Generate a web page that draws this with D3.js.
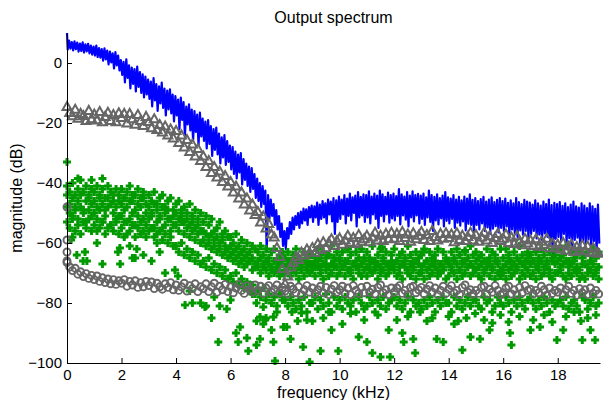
<!DOCTYPE html>
<html>
<head>
<meta charset="utf-8">
<script src="https://cdn.jsdelivr.net/npm/d3@7"></script>
<style>
body { margin: 0; background: #fff; }
svg { display: block; font-family: Helvetica, Arial, "Liberation Sans", sans-serif; }
</style>
</head>
<body>
<svg width="603" height="400"></svg>
<script>
// spectrum bins are 0.1 kHz apart, one row below = 1 kHz
var binWidth = 0.1;
var xTicks = [0, 2, 4, 6, 8, 10, 12, 14, 16, 18];
var yTicks = [-100, -80, -60, -40, -20, 0];

// blue trace: top and bottom of each bin (dB)
var blueHi = [
    10, 7.5, 7, 7.2, 6.8, 6.5, 6.9, 6.2, 6.4, 5.8,
    5.5, 5.8, 5.0, 4.6, 4.9, 4.1, 3.8, 3.2, 3.6, 2.5,
    1.0, 0.4, 1.2, -0.8, -1.5, -2.0, -1.2, -3.0, -3.8, -4.5,
    -5.5, -6.2, -5.0, -7.0, -7.8, -6.5, -8.5, -9.2, -8.8, -10.5,
    -11.0, -12.2, -11.5, -13.0, -14.5, -13.8, -15.5, -16.0, -17.2, -16.5,
    -18.5, -19.5, -19.0, -21.0, -22.0, -21.5, -23.5, -24.8, -24.0, -26.0,
    -27.5, -28.0, -29.5, -30.5, -30.0, -32.0, -33.5, -34.5, -35.0, -37.0,
    -38.5, -40.0, -41.0, -42.5, -44.0, -45.5, -47.0, -49.0, -51.0, -53.5,
    -56.0, -55.0, -53.0, -51.5, -51.0, -50.0, -49.5, -48.5, -48.8, -48.0,
    -47.5, -47.8, -46.5, -47.2, -46.0, -46.8, -45.5, -46.2, -45.0, -45.8,
    -44.5, -45.5, -44.0, -45.2, -43.5, -44.8, -44.2, -43.0, -44.6, -43.8,
    -44.0, -42.8, -44.5, -43.5, -44.2, -42.5, -43.8, -44.6, -43.2, -44.0,
    -43.5, -44.4, -42.0, -43.8, -44.5, -43.0, -44.2, -42.8, -44.0, -43.6,
    -44.2, -43.5, -44.8, -42.5, -44.0, -44.6, -43.8, -45.0, -44.2, -43.0,
    -44.8, -45.2, -44.0, -45.5, -44.6, -45.8, -44.5, -45.2, -43.8, -45.6,
    -45.0, -46.0, -45.4, -44.6, -46.2, -45.5, -44.8, -46.4, -45.6, -45.0,
    -46.0, -45.2, -46.6, -45.8, -46.8, -45.0, -46.4, -47.0, -45.6, -46.2,
    -46.5, -47.2, -45.8, -46.8, -47.5, -46.2, -47.0, -45.5, -47.4, -46.6,
    -47.0, -46.4, -47.6, -46.8, -48.0, -47.2, -46.2, -47.8, -48.2, -46.8,
    -47.5, -48.4, -46.8, -47.8, -48.6, -47.2
];
var blueLo = [
    4.5, 4.8, 4.2, 4.6, 3.8, 4.0, 3.5, 3.9, 3.2, 2.8,
    2.5, 2.0, 1.8, 0.8, 1.2, -0.5, 0.2, -1.8, -0.8, -2.5,
    -4.0, -6.5, -5.0, -8.5, -7.0, -9.5, -8.0, -10.0, -11.5, -10.5,
    -12.0, -14.5, -12.5, -16.0, -13.5, -15.0, -17.5, -15.5, -16.8, -19.5,
    -17.5, -22.0, -19.0, -24.5, -20.5, -22.5, -26.0, -23.0, -27.5, -24.5,
    -26.0, -28.5, -27.0, -31.0, -29.0, -30.5, -33.5, -31.5, -34.0, -33.0,
    -35.5, -37.0, -38.5, -36.5, -40.5, -39.0, -41.0, -43.0, -42.0, -45.0,
    -46.0, -48.0, -47.0, -63.0, -52.0, -51.0, -54.0, -55.5, -58.0, -61.0,
    -62.0, -58.5, -57.0, -55.5, -54.0, -55.0, -53.5, -52.5, -54.0, -51.5,
    -53.0, -51.5, -54.0, -52.0, -51.5, -53.5, -50.5, -52.8, -57.0, -53.0,
    -52.0, -50.5, -53.5, -51.0, -52.5, -50.0, -54.5, -51.5, -50.8, -53.0,
    -51.5, -53.5, -50.5, -52.0, -55.0, -51.0, -52.8, -50.5, -53.2, -51.8,
    -52.5, -51.0, -53.8, -50.8, -52.2, -54.5, -51.5, -52.8, -50.8, -53.5,
    -52.0, -54.0, -51.5, -53.0, -56.0, -52.5, -53.8, -51.8, -54.5, -52.6,
    -53.5, -52.0, -55.0, -53.2, -54.2, -52.8, -55.8, -53.6, -54.0, -56.5,
    -54.0, -55.5, -53.5, -56.0, -54.8, -57.0, -55.2, -54.4, -56.5, -55.0,
    -56.0, -54.5, -57.5, -55.5, -56.8, -58.0, -55.8, -57.2, -56.0, -58.5,
    -57.0, -56.0, -58.5, -57.2, -59.0, -56.8, -58.0, -60.5, -64.0, -58.6,
    -58.0, -59.5, -57.0, -60.0, -58.4, -61.0, -59.0, -58.2, -62.0, -59.2,
    -60.0, -58.8, -61.5, -59.4, -63.0, -60.2
];

// gray triangles (dB)
var triMag = [
    -14.5, -16.5, -17.6, -15.4, -18.4, -16.8, -17.5, -19.2, -15.8, -18.6,
    -17.0, -19.0, -16.2, -19.6, -17.8, -16.4, -19.2, -17.2, -19.6, -16.6,
    -18.2, -16.8, -20.0, -16.8, -18.6, -20.4, -17.2, -19.2, -20.8, -17.8,
    -19.5, -21.6, -18.6, -22.2, -20.5, -23.0, -21.0, -24.0, -22.0, -25.0,
    -22.5, -26.5, -24.0, -28.0, -25.5, -29.5, -27.0, -31.0, -28.5, -32.5,
    -31.0, -34.5, -32.5, -36.5, -34.5, -38.0, -36.0, -39.5, -37.5, -41.0,
    -39.5, -43.0, -41.0, -45.0, -43.0, -47.0, -45.0, -49.0, -47.0, -50.5,
    -49.5, -53.0, -51.0, -55.0, -53.5, -57.0, -58.0, -61.5, -64.5, -68.5,
    -73.5, -71.0, -68.0, -66.5, -64.5, -65.5, -63.0, -64.0, -62.0, -63.2,
    -61.5, -63.2, -60.2, -62.2, -59.6, -61.6, -59.8, -58.6, -60.8, -59.2,
    -58.3, -60.4, -59.0, -57.4, -59.8, -58.2, -60.2, -57.2, -59.4, -58.6,
    -57.4, -59.6, -58.0, -56.4, -59.0, -57.4, -59.2, -56.8, -58.6, -56.4,
    -58.4, -56.8, -59.2, -56.2, -58.2, -57.0, -59.4, -56.6, -58.6, -57.4,
    -56.2, -58.8, -57.2, -59.2, -55.8, -57.8, -59.0, -56.8, -58.4, -56.6,
    -58.2, -57.0, -59.6, -56.6, -58.8, -57.4, -59.2, -57.8, -56.4, -59.0,
    -57.2, -59.4, -58.0, -56.4, -59.0, -57.6, -59.8, -58.2, -56.8, -59.2,
    -58.4, -57.0, -59.8, -58.0, -60.2, -57.6, -59.4, -60.6, -58.4, -60.0,
    -59.0, -60.8, -58.6, -61.2, -59.4, -60.4, -58.4, -61.6, -60.0, -61.4,
    -60.4, -62.0, -59.8, -62.4, -61.0, -60.4, -62.8, -61.2, -62.2, -60.6,
    -62.6, -61.0, -63.2, -61.6, -63.0, -63.4
];

// gray circles (dB), plus the extra points sitting on 0 kHz
var circMag = [
    -66.5, -68.0, -69.2, -68.4, -70.4, -69.6, -71.2, -70.2, -71.8, -70.8,
    -72.2, -71.0, -72.8, -71.6, -73.2, -72.0, -73.6, -72.2, -73.8, -72.6,
    -73.4, -72.2, -74.4, -72.8, -74.0, -72.6, -74.8, -73.2, -74.6, -72.8,
    -74.2, -73.0, -75.2, -73.4, -74.6, -75.4, -73.6, -74.8, -73.2, -75.6,
    -74.0, -75.8, -74.6, -73.4, -76.0, -74.2, -75.2, -73.6, -76.2, -74.6,
    -75.2, -73.6, -76.2, -74.6, -73.4, -76.4, -74.4, -75.6, -73.8, -76.2,
    -74.6, -76.6, -75.0, -73.8, -75.8, -76.8, -74.2, -75.4, -76.4, -74.0,
    -75.8, -74.4, -76.8, -75.0, -74.2, -76.4, -75.4, -74.0, -76.6, -74.8,
    -76.0, -77.0, -74.4, -75.4, -76.6, -74.6, -77.2, -75.6, -74.2, -76.4,
    -75.0, -76.8, -75.6, -74.4, -76.6, -74.8, -77.2, -75.4, -74.2, -76.4,
    -75.6, -74.4, -76.8, -75.0, -77.2, -74.2, -75.8, -76.8, -74.8, -76.6,
    -74.4, -76.4, -75.4, -77.0, -74.8, -74.0, -76.6, -75.6, -77.2, -75.0,
    -76.4, -75.0, -74.2, -76.8, -75.8, -77.2, -74.8, -74.4, -76.6, -75.6,
    -74.8, -77.0, -75.4, -74.2, -76.4, -75.0, -77.2, -75.8, -74.4, -76.8,
    -75.4, -74.2, -76.6, -75.8, -77.2, -74.8, -74.0, -76.4, -75.6, -77.0,
    -75.8, -76.8, -74.8, -74.4, -77.0, -75.4, -76.4, -74.2, -75.8, -77.2,
    -76.6, -75.0, -74.4, -77.0, -75.6, -77.2, -74.8, -76.6, -74.2, -75.8,
    -75.4, -77.0, -75.8, -76.6, -74.4, -75.6, -77.4, -75.0, -76.8, -75.8,
    -76.4, -75.0, -77.2, -75.6, -74.4, -76.8, -75.8, -77.4, -75.2, -76.6,
    -75.6, -77.2, -75.0, -76.8, -75.8, -77.0
];
var circEdge = [-48, -59, -63, -66];

// green crosses: four readings per bin
var greenA = [
    -41, -43, -40, -44, -42, -39, -43, -41, -45, -42,
    -43, -41, -44, -42, -45, -41, -43, -46, -42, -44,
    -42, -45, -43, -41, -46, -44, -42, -45, -43, -47,
    -44, -46, -43, -47, -45, -44, -48, -46, -45, -49,
    -47, -46, -49, -48, -50, -47, -51, -49, -52, -50,
    -53, -51, -54, -52, -56, -55, -53, -57, -56, -58,
    -58, -60, -57, -61, -59, -62, -60, -63, -61, -62,
    -63, -61, -64, -62, -65, -63, -62, -66, -64, -63,
    -65, -63, -66, -64, -62, -65, -67, -63, -66, -64,
    -64, -66, -62, -65, -63, -67, -64, -61, -65, -63,
    -65, -63, -66, -62, -64, -67, -63, -65, -62, -66,
    -63, -65, -61, -66, -64, -62, -65, -63, -67, -64,
    -62, -66, -64, -63, -65, -61, -64, -66, -63, -65,
    -64, -62, -66, -63, -65, -64, -62, -67, -63, -65,
    -66, -63, -65, -62, -64, -66, -63, -65, -61, -64,
    -63, -65, -64, -66, -62, -65, -63, -64, -66, -62,
    -65, -62, -64, -66, -63, -65, -61, -64, -66, -63,
    -64, -66, -63, -65, -62, -64, -66, -63, -65, -64,
    -62, -65, -64, -61, -66, -63, -65, -64, -62, -65,
    -64, -63, -66, -62, -65, -63
];
var greenD = [
    -44, -47, -45, -48, -46, -44, -49, -46, -44, -47,
    -46, -48, -45, -47, -49, -45, -47, -44, -48, -46,
    -47, -45, -48, -46, -44, -49, -47, -48, -45, -50,
    -48, -50, -47, -49, -51, -48, -50, -49, -52, -51,
    -50, -52, -51, -53, -52, -54, -53, -55, -54, -56,
    -56, -57, -58, -57, -59, -58, -60, -59, -61, -62,
    -61, -63, -62, -64, -63, -65, -64, -66, -65, -67,
    -66, -65, -68, -66, -67, -69, -66, -68, -67, -66,
    -68, -66, -67, -69, -66, -68, -67, -66, -69, -67,
    -67, -68, -66, -68, -67, -65, -68, -67, -66, -68,
    -66, -68, -67, -66, -69, -67, -66, -68, -67, -65,
    -68, -67, -66, -69, -67, -68, -66, -67, -68, -66,
    -67, -66, -68, -67, -66, -69, -67, -68, -66, -67,
    -68, -67, -66, -68, -67, -66, -69, -67, -68, -66,
    -67, -68, -66, -67, -69, -67, -66, -68, -67, -68,
    -66, -68, -67, -69, -66, -67, -68, -66, -67, -69,
    -68, -67, -66, -68, -67, -69, -66, -67, -68, -66,
    -67, -66, -68, -67, -66, -68, -67, -69, -66, -67,
    -66, -68, -67, -66, -68, -67, -66, -68, -69, -67,
    -67, -68, -66, -67, -69, -68
];
var greenB = [
    -48, -50, -51, -49, -52, -48, -50, -53, -49, -51,
    -50, -52, -49, -53, -51, -48, -54, -50, -52, -51,
    -51, -49, -53, -52, -50, -54, -51, -53, -52, -54,
    -52, -51, -55, -53, -52, -55, -54, -52, -56, -54,
    -54, -56, -53, -57, -55, -58, -56, -59, -57, -60,
    -59, -61, -60, -62, -61, -63, -62, -64, -63, -65,
    -64, -66, -65, -67, -66, -68, -67, -66, -69, -68,
    -68, -70, -67, -69, -71, -68, -70, -69, -71, -70,
    -70, -68, -71, -69, -70, -72, -69, -71, -68, -70,
    -69, -71, -68, -70, -72, -69, -71, -70, -68, -71,
    -70, -68, -71, -69, -70, -72, -68, -70, -71, -69,
    -71, -69, -70, -68, -72, -70, -69, -71, -70, -68,
    -69, -71, -70, -72, -68, -70, -71, -69, -72, -70,
    -70, -72, -69, -71, -70, -68, -71, -70, -69, -72,
    -71, -69, -70, -72, -69, -71, -70, -68, -71, -70,
    -69, -71, -72, -70, -68, -71, -69, -72, -70, -71,
    -70, -72, -69, -71, -70, -68, -72, -70, -71, -69,
    -71, -70, -72, -69, -71, -70, -68, -71, -72, -70,
    -70, -69, -71, -72, -70, -71, -69, -70, -72, -71,
    -72, -70, -69, -71, -70, -72
];
var greenC = [
    -53, -55, -52, -56, -54, -57, -53, -55, -52, -56,
    -54, -56, -55, -53, -57, -55, -54, -56, -53, -57,
    -55, -53, -57, -56, -54, -58, -55, -57, -56, -58,
    -56, -55, -58, -57, -56, -59, -57, -60, -58, -61,
    -61, -63, -60, -64, -62, -65, -63, -66, -64, -67,
    -66, -68, -65, -69, -67, -70, -68, -71, -69, -72,
    -71, -73, -70, -74, -72, -75, -73, -76, -74, -77,
    -76, -78, -75, -79, -77, -80, -78, -81, -77, -79,
    -79, -81, -78, -80, -82, -79, -81, -78, -83, -80,
    -80, -78, -82, -79, -81, -77, -80, -83, -78, -81,
    -79, -82, -78, -80, -81, -79, -83, -78, -80, -82,
    -81, -78, -80, -83, -79, -81, -78, -82, -80, -79,
    -78, -81, -79, -82, -80, -78, -83, -79, -81, -80,
    -82, -79, -81, -78, -80, -83, -79, -81, -78, -80,
    -80, -83, -78, -81, -79, -82, -80, -78, -81, -79,
    -79, -81, -82, -78, -80, -79, -83, -81, -78, -80,
    -81, -78, -80, -83, -79, -81, -78, -80, -82, -79,
    -78, -80, -82, -79, -81, -78, -80, -83, -79, -81,
    -80, -79, -81, -78, -82, -80, -79, -81, -83, -78,
    -79, -82, -80, -78, -81, -80
];
// scattered green crosses away from the band
var greenOutF = [
    0, 0.4, 0.9, 1.3, 0.66, 0.59, 1.3, 1.94, 1.87, 2.3, 2.4, 2.5, 1.95, 3.4, 3.6, 3.96, 4.07, 2.56, 0.36, 0.73, 2.8, 0.15, 1.1, 0.2, 2.1, 3.1, 3.3,
    4.33, 4.9, 5.3, 5.55, 5.1, 6.28, 6.35, 6.65, 6.95, 7.08, 7.2, 7.5, 7.57, 7.63, 7.94, 8.2, 8.25, 6.95, 7.3, 5.86, 5.6, 6.8, 7.7, 6.2, 6.6, 7.08, 7.27, 7.57, 8.06, 8.46, 8.6, 6.95, 7.2, 4.6, 5.06, 4.5, 5.4, 6.0,
    8.9, 8.66, 9.0, 9.3, 9.7, 9.95, 10.1, 10.7, 11.0, 11.2, 11.5, 11.85, 11.8, 12.3, 12.35, 12.7, 12.77, 13.2, 13.56, 13.8, 14.2, 14.5, 14.8, 15.15, 15.5, 15.6, 16.3, 16.25, 17.0, 17.35, 17.97, 18.2, 18.9, 19.37, 18.85, 19.2,
    8.8, 9.4, 9.6, 10.4, 10.9, 11.4, 12.1, 12.5, 12.95, 13.4, 14.0, 14.35, 14.65, 14.97, 15.3, 15.9, 16.2, 16.6, 17.1, 17.5, 17.8, 18.3, 18.6, 19.1, 19.4,
    9.6, 11.55, 13.06, 16.9, 10.3, 14.6, 18.1
];
var greenOutM = [
    -33, -38.5, -39, -38.5, -63, -66, -67, -61.7, -63, -61, -65, -65, -67, -63, -70, -69, -71, -62, -64, -66, -64, -59, -60, -58, -58, -66, -60,
    -80.7, -80, -85, -93, -81, -93, -88, -96, -94, -92, -87, -89, -93, -99.3, -88, -92, -83, -86, -85, -82, -81, -77, -83, -90, -91.7, -84.7, -85.7, -84.7, -88, -86, -83.3, -80, -81.3, -80, -81.3, -76, -78, -79,
    -99.7, -94.7, -86, -96, -89, -96, -87, -91.3, -93, -96.7, -98, -98, -89, -90, -93, -92, -96.7, -86, -92, -93, -87, -95.7, -91.3, -92, -89, -86.7, -94, -90, -89, -88, -92.3, -89, -92.3, -92.3, -86, -89,
    -85.7, -85, -83, -83.5, -85.7, -84, -85.7, -84.5, -83, -85, -84.5, -86, -85, -83.5, -85.7, -84, -86.3, -84.5, -85.7, -84, -86.3, -84.5, -83, -85, -84,
    -64, -61.3, -63, -64, -62, -62.5, -62
];

var svg = d3.select('svg');

var xScale = d3.scaleLinear()
    .domain([0, 19.55])
    .range([67, 600]);

var yScale = d3.scaleLinear()
    .domain([-100, 10])
    .range([363, 33]);

function freq(i) { return i * binWidth; }

// blue: each bin drawn as its top then its bottom
var bluePts = [];
blueHi.forEach(function(v, i) {
    bluePts.push([Math.max(0, freq(i) - binWidth / 4), v]);
    bluePts.push([freq(i) + binWidth / 4, blueLo[i]]);
});

svg.append('path')
    .datum(bluePts)
    .attr('d', d3.line()
        .x(function(d) { return xScale(d[0]); })
        .y(function(d) { return yScale(d[1]); }))
    .attr('fill', 'none')
    .attr('stroke', '#0000ff')
    .attr('stroke-width', 2.2)
    .attr('stroke-linejoin', 'round');

// green crosses
var greenPts = [];
[greenA, greenD, greenB, greenC].forEach(function(arr) {
    arr.forEach(function(v, i) { greenPts.push([freq(i), v]); });
});
greenOutF.forEach(function(f, i) { greenPts.push([f, greenOutM[i]]); });

svg.append('g')
    .selectAll('path')
    .data(greenPts)
    .join('path')
    .attr('transform', function(d) { return 'translate(' + xScale(d[0]) + ',' + yScale(d[1]) + ')'; })
    .attr('d', 'M-4,0H4M0,-4V4')
    .attr('stroke', '#009900')
    .attr('stroke-width', 3);

// gray triangles
svg.append('g')
    .selectAll('path')
    .data(triMag)
    .join('path')
    .attr('transform', function(d, i) { return 'translate(' + xScale(freq(i)) + ',' + yScale(d) + ')'; })
    .attr('d', 'M0,-4.5L4.5,3.5H-4.5Z')
    .attr('fill', 'none')
    .attr('stroke', '#666666')
    .attr('stroke-width', 2);

// gray circles
var circPts = circEdge.map(function(v) { return [0, v]; });
circMag.forEach(function(v, i) { circPts.push([freq(i), v]); });

svg.append('g')
    .selectAll('circle')
    .data(circPts)
    .join('circle')
    .attr('cx', function(d) { return xScale(d[0]); })
    .attr('cy', function(d) { return yScale(d[1]); })
    .attr('r', 3.5)
    .attr('fill', 'none')
    .attr('stroke', '#666666')
    .attr('stroke-width', 1.9);

// axes, ticks pointing inward
svg.append('g')
    .attr('transform', 'translate(0,363)')
    .call(d3.axisBottom(xScale).tickValues(xTicks).tickSizeInner(-5).tickSizeOuter(0).tickPadding(6));

svg.append('g')
    .attr('transform', 'translate(67,0)')
    .call(d3.axisLeft(yScale).tickValues(yTicks).tickSizeInner(-5).tickSizeOuter(0).tickPadding(5));

svg.selectAll('.tick text')
    .attr('font-size', 15)
    .attr('font-family', 'Helvetica, Arial, "Liberation Sans", sans-serif')
    .attr('fill', '#000');

svg.selectAll('.domain, .tick line').attr('stroke', '#000');

svg.append('text')
    .attr('x', 333.5)
    .attr('y', 23)
    .attr('text-anchor', 'middle')
    .attr('font-size', 16)
    .text('Output spectrum');

svg.append('text')
    .attr('x', 333.5)
    .attr('y', 398)
    .attr('text-anchor', 'middle')
    .attr('font-size', 16)
    .text('frequency (kHz)');

svg.append('text')
    .attr('transform', 'translate(22,198) rotate(-90)')
    .attr('text-anchor', 'middle')
    .attr('font-size', 16)
    .text('magnitude (dB)');
</script>
</body>
</html>
